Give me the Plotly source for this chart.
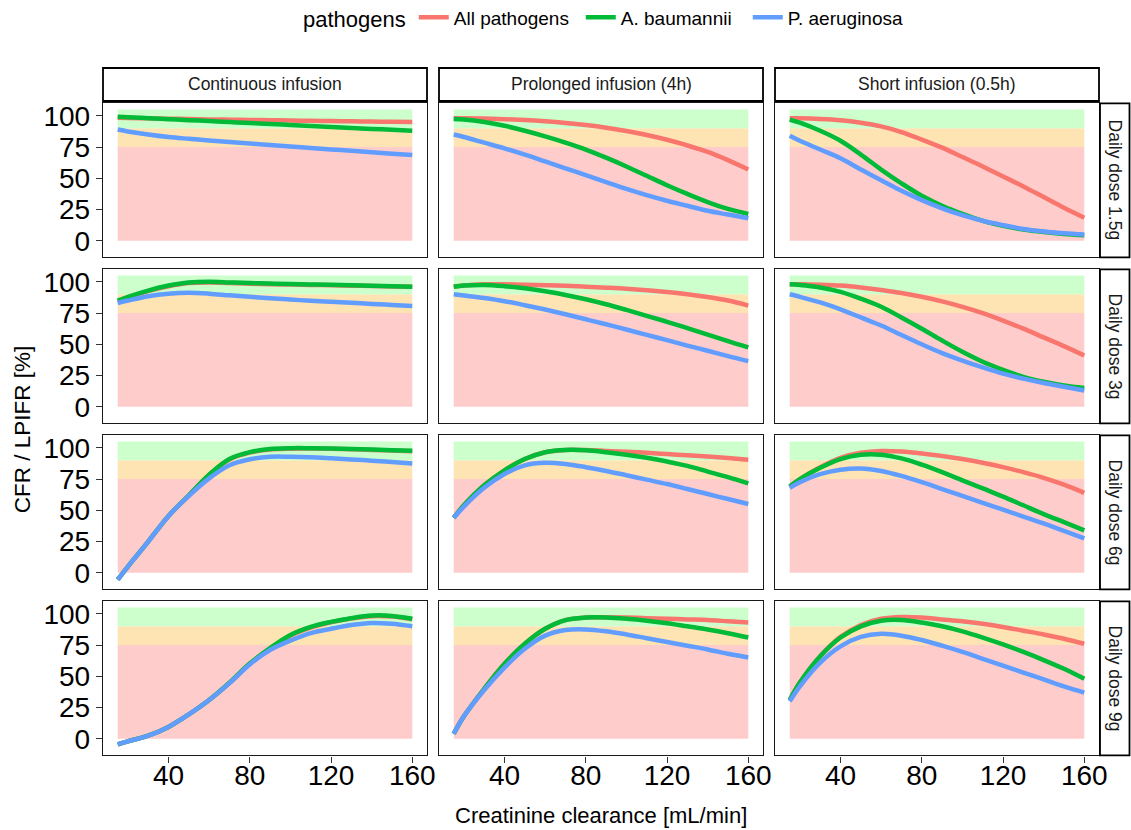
import plotly.graph_objects as go

# Creatinine clearance grid [mL/min]
clcr = [15, 20, 30, 40, 50, 60, 70, 80, 90, 100, 110, 120, 130, 140, 150, 160]

regimens = ["Continuous infusion", "Prolonged infusion (4h)", "Short infusion (0.5h)"]
doses = ["Daily dose 1.5g", "Daily dose 3g", "Daily dose 6g", "Daily dose 9g"]
pathogens = ["All pathogens", "A. baumannii", "P. aeruginosa"]
colors = ["#F8766D", "#00BA38", "#619CFF"]

y_ticks = [0, 25, 50, 75, 100]
x_ticks = [40, 80, 120, 160]

# Target attainment bands (lower, upper, fill)
bands = [(0, 75, "#FFCCCC"), (75, 90, "#FEE3B3"), (90, 105, "#CCFFCC")]

# ---- Daily dose 1.5 g ----
all_d15_ci = [98.5, 98.3, 98.0, 97.7, 97.4, 97.1, 96.9, 96.7, 96.5, 96.2, 96.0, 95.8, 95.6, 95.4, 95.2, 95.0]
ab_d15_ci = [99.2, 98.8, 98.1, 97.3, 96.5, 95.8, 95.0, 94.2, 93.5, 92.7, 91.9, 91.1, 90.3, 89.5, 88.8, 88.0]
pa_d15_ci = [89.0, 87.5, 85.0, 83.0, 81.6, 80.3, 79.0, 77.8, 76.6, 75.5, 74.3, 73.1, 72.0, 70.8, 69.7, 68.6]

all_d15_pi = [98.0, 98.0, 97.8, 97.3, 96.6, 95.6, 94.3, 92.6, 90.5, 87.8, 84.6, 80.8, 76.3, 71.1, 64.5, 57.0]
ab_d15_pi = [97.5, 97.0, 95.0, 92.0, 88.0, 83.5, 78.5, 73.0, 66.5, 59.5, 52.0, 44.5, 37.5, 31.0, 25.5, 21.5]
pa_d15_pi = [85.0, 83.0, 78.5, 74.0, 69.0, 63.5, 58.0, 52.5, 47.0, 41.5, 36.5, 32.0, 28.0, 24.0, 21.0, 18.0]

all_d15_si = [98.0, 98.0, 97.5, 96.5, 94.5, 91.5, 87.0, 81.0, 74.5, 67.0, 59.5, 51.5, 43.5, 35.0, 26.5, 18.5]
ab_d15_si = [97.0, 94.5, 88.0, 80.0, 69.0, 57.0, 46.0, 36.0, 28.0, 21.5, 16.0, 12.0, 9.0, 7.0, 5.5, 4.5]
pa_d15_si = [84.0, 80.0, 73.0, 66.0, 57.0, 48.5, 40.0, 32.5, 26.0, 20.5, 16.0, 12.5, 9.5, 7.5, 6.0, 5.0]

# ---- Daily dose 3 g ----
all_d3_ci = [84.0, 87.0, 92.5, 96.5, 99.0, 99.5, 99.0, 98.5, 98.0, 97.8, 97.5, 97.2, 96.9, 96.6, 96.3, 96.0]
ab_d3_ci = [85.0, 88.0, 93.0, 97.0, 99.5, 100.0, 99.5, 99.0, 98.6, 98.2, 97.9, 97.6, 97.2, 96.9, 96.5, 96.0]
pa_d3_ci = [83.0, 85.0, 88.5, 90.5, 91.2, 90.5, 89.2, 88.0, 86.8, 85.8, 84.8, 84.0, 83.2, 82.3, 81.5, 80.7]

all_d3_pi = [96.0, 97.0, 98.0, 98.0, 97.7, 97.3, 96.8, 96.1, 95.3, 94.4, 93.2, 91.8, 90.0, 87.8, 85.0, 81.0]
ab_d3_pi = [96.0, 97.0, 97.5, 96.5, 94.8, 92.5, 89.5, 86.0, 82.0, 77.5, 72.8, 68.0, 63.0, 57.8, 52.5, 47.5]
pa_d3_pi = [90.0, 89.0, 87.0, 84.5, 81.3, 77.8, 74.0, 70.0, 66.0, 61.8, 57.5, 53.3, 49.0, 44.8, 40.5, 36.5]

all_d3_si = [98.0, 98.0, 97.7, 97.0, 95.5, 93.5, 91.0, 88.0, 84.3, 80.0, 75.0, 69.0, 62.5, 55.5, 48.5, 41.0]
ab_d3_si = [98.0, 97.5, 95.5, 92.0, 86.5, 80.0, 71.5, 62.5, 53.0, 44.0, 36.0, 29.5, 24.0, 20.0, 17.0, 15.0]
pa_d3_si = [90.0, 88.0, 83.5, 78.0, 71.5, 65.0, 57.5, 50.0, 43.0, 37.0, 31.5, 26.5, 22.5, 19.0, 16.0, 13.0]

# ---- Daily dose 6 g ----
all_d6_ci = [-5.5, 5.0, 25.0, 45.5, 61.8, 78.2, 90.6, 96.1, 98.6, 99.3, 99.4, 99.2, 98.8, 98.3, 97.8, 97.3]
ab_d6_ci = [-5.5, 5.0, 25.0, 45.5, 62.0, 78.5, 91.0, 96.5, 99.0, 99.7, 99.7, 99.5, 99.1, 98.6, 98.1, 97.6]
pa_d6_ci = [-5.5, 5.0, 25.0, 45.5, 61.5, 75.5, 86.0, 90.8, 92.8, 92.8, 92.4, 91.6, 90.7, 89.7, 88.6, 87.5]

all_d6_pi = [44.0, 54.0, 70.0, 82.0, 91.0, 96.5, 98.3, 98.2, 97.5, 96.8, 96.0, 95.0, 94.0, 93.0, 91.8, 90.5]
ab_d6_pi = [44.0, 54.0, 70.0, 82.0, 91.0, 96.5, 98.3, 98.0, 96.5, 94.5, 92.0, 89.0, 85.5, 81.0, 76.5, 71.5]
pa_d6_pi = [44.0, 53.0, 68.0, 79.0, 86.0, 88.0, 87.0, 84.5, 81.5, 78.0, 74.5, 71.0, 67.0, 63.0, 59.0, 55.0]

all_d6_si = [69.0, 75.0, 84.5, 92.0, 96.0, 97.5, 97.0, 95.5, 93.5, 91.0, 88.0, 84.5, 80.5, 76.0, 70.5, 64.0]
ab_d6_si = [69.0, 75.0, 84.0, 91.0, 94.5, 94.5, 91.5, 86.5, 80.5, 74.0, 67.5, 61.0, 54.0, 47.0, 40.5, 34.0]
pa_d6_si = [68.0, 72.5, 79.0, 82.5, 83.5, 81.5, 77.5, 72.5, 67.0, 61.5, 56.0, 50.5, 45.0, 39.5, 33.5, 27.5]

# ---- Daily dose 9 g ----
all_d9_ci = [-4.5, -2.0, 2.5, 9.5, 19.5, 31.0, 44.7, 60.0, 72.3, 82.5, 89.0, 93.2, 96.2, 98.1, 97.8, 95.6]
ab_d9_ci = [-4.5, -2.0, 2.5, 9.5, 19.5, 31.0, 44.8, 60.2, 72.5, 83.0, 89.5, 93.5, 96.5, 98.6, 98.3, 96.0]
pa_d9_ci = [-4.5, -2.0, 2.5, 9.5, 19.5, 31.0, 44.5, 59.5, 71.0, 78.5, 84.5, 88.0, 91.0, 92.7, 92.0, 90.0]

all_d9_pi = [4.0, 18.0, 40.0, 60.0, 76.0, 88.0, 95.0, 97.0, 97.2, 97.0, 96.5, 96.0, 95.5, 95.0, 94.0, 93.0]
ab_d9_pi = [4.0, 18.0, 40.0, 60.0, 76.0, 88.0, 95.0, 97.0, 97.0, 96.0, 94.5, 92.5, 90.0, 87.5, 84.5, 81.0]
pa_d9_pi = [4.0, 18.0, 39.0, 57.0, 72.0, 82.5, 87.0, 87.5, 86.0, 83.5, 80.5, 77.5, 74.5, 71.5, 68.0, 65.0]

all_d9_si = [31.0, 45.0, 66.0, 81.5, 91.0, 96.0, 97.5, 97.0, 95.5, 94.0, 92.0, 89.5, 86.5, 83.5, 80.0, 76.0]
ab_d9_si = [31.0, 45.0, 66.0, 81.0, 90.0, 94.5, 95.0, 93.0, 90.0, 86.0, 81.0, 75.5, 69.5, 63.0, 56.0, 48.0]
pa_d9_si = [30.0, 42.0, 61.0, 74.0, 81.5, 84.0, 82.5, 79.0, 74.5, 69.5, 64.0, 58.5, 53.0, 47.5, 42.0, 37.0]

# rows = doses, columns = regimens, each cell = (All, A. baumannii, P. aeruginosa)
panels = [
    [(all_d15_ci, ab_d15_ci, pa_d15_ci), (all_d15_pi, ab_d15_pi, pa_d15_pi), (all_d15_si, ab_d15_si, pa_d15_si)],
    [(all_d3_ci, ab_d3_ci, pa_d3_ci), (all_d3_pi, ab_d3_pi, pa_d3_pi), (all_d3_si, ab_d3_si, pa_d3_si)],
    [(all_d6_ci, ab_d6_ci, pa_d6_ci), (all_d6_pi, ab_d6_pi, pa_d6_pi), (all_d6_si, ab_d6_si, pa_d6_si)],
    [(all_d9_ci, ab_d9_ci, pa_d9_ci), (all_d9_pi, ab_d9_pi, pa_d9_pi), (all_d9_si, ab_d9_si, pa_d9_si)],
]

# ---- layout geometry in pixels ----
W, H = 1131, 830
col_px = [(103.0, 427.0), (439.0, 763.0), (775.0, 1099.0)]
row_px = [(103.3, 257.3), (269.3, 423.3), (435.3, 589.3), (601.3, 755.3)]
top_strip = (68.0, 101.0)
right_strip = (1100.0, 1129.5)
x_range = [7.75, 167.25]
y_range = [-13.2, 110.0]

FONT = "Liberation Sans, Arial, sans-serif"
INK = "#1a1a1a"


def fx(p):
    return p / W


def fy(p):
    return 1 - p / H


fig = go.Figure()
shapes = []
annotations = []
layout_axes = {}

for r in range(4):
    for c in range(3):
        k = r * 3 + c + 1
        suffix = "" if k == 1 else str(k)
        xref, yref = "x" + suffix, "y" + suffix

        for i, series in enumerate(panels[r][c]):
            fig.add_trace(go.Scatter(
                x=clcr, y=series, mode="lines",
                line=dict(color=colors[i], width=4.5, shape="spline", smoothing=1.0),
                name=pathogens[i], legendgroup=pathogens[i],
                showlegend=(k == 1), xaxis=xref, yaxis=yref,
                hoverinfo="skip",
            ))

        for lo, hi, fill in bands:
            shapes.append(dict(type="rect", xref=xref, yref=yref,
                               x0=clcr[0], x1=clcr[-1], y0=lo, y1=hi,
                               fillcolor=fill, line=dict(width=0), layer="below"))

        bottom = r == 3
        left = c == 0
        layout_axes["xaxis" + suffix] = dict(
            domain=[fx(col_px[c][0]), fx(col_px[c][1])], range=x_range,
            anchor=yref, showgrid=False, zeroline=False, automargin=False,
            showline=True, mirror=True, linecolor=INK, linewidth=1.4,
            tickvals=x_ticks, ticks="outside" if bottom else "",
            ticklen=6, tickwidth=1.2, tickcolor="#333333",
            showticklabels=bottom, ticklabelstandoff=-11,
            tickfont=dict(family=FONT, size=28, color="#000000"),
        )
        layout_axes["yaxis" + suffix] = dict(
            domain=[fy(row_px[r][1]), fy(row_px[r][0])], range=y_range,
            anchor=xref, showgrid=False, zeroline=False, automargin=False,
            showline=True, mirror=True, linecolor=INK, linewidth=1.4,
            tickvals=y_ticks, ticks="outside" if left else "",
            ticklen=6, tickwidth=1.2, tickcolor="#333333",
            showticklabels=left,
            tickfont=dict(family=FONT, size=28, color="#000000"),
        )

# column strips
for c, label in enumerate(regimens):
    shapes.append(dict(type="rect", xref="paper", yref="paper",
                       x0=fx(col_px[c][0]), x1=fx(col_px[c][1]),
                       y0=fy(top_strip[1]), y1=fy(top_strip[0]),
                       fillcolor="white", line=dict(color="#000000", width=1.8)))
    annotations.append(dict(x=fx((col_px[c][0] + col_px[c][1]) / 2),
                            y=fy((top_strip[0] + top_strip[1]) / 2),
                            xref="paper", yref="paper", text=label, showarrow=False,
                            font=dict(family=FONT, size=17.5, color=INK),
                            xanchor="center", yanchor="middle"))

# row strips
for r, label in enumerate(doses):
    shapes.append(dict(type="rect", xref="paper", yref="paper",
                       x0=fx(right_strip[0]), x1=fx(right_strip[1]),
                       y0=fy(row_px[r][1]), y1=fy(row_px[r][0]),
                       fillcolor="white", line=dict(color="#000000", width=1.8)))
    annotations.append(dict(x=fx((right_strip[0] + right_strip[1]) / 2),
                            y=fy((row_px[r][0] + row_px[r][1]) / 2),
                            xref="paper", yref="paper", text=label, showarrow=False,
                            textangle=90,
                            font=dict(family=FONT, size=17.5, color=INK),
                            xanchor="center", yanchor="middle"))

# axis titles
annotations.append(dict(x=fx((col_px[0][0] + col_px[2][1]) / 2), y=fy(815),
                        xref="paper", yref="paper", text="Creatinine clearance [mL/min]",
                        showarrow=False, font=dict(family=FONT, size=22, color="#000000"),
                        xanchor="center", yanchor="middle"))
annotations.append(dict(x=fx(22), y=fy((row_px[0][0] + row_px[3][1]) / 2),
                        xref="paper", yref="paper", text="CFR / LPIFR [%]",
                        showarrow=False, textangle=-90,
                        font=dict(family=FONT, size=22.5, color="#000000"),
                        xanchor="center", yanchor="middle"))

fig.update_layout(
    width=W, height=H,
    margin=dict(l=0, r=0, t=0, b=0, pad=0, autoexpand=False),
    paper_bgcolor="white", plot_bgcolor="white",
    shapes=shapes, annotations=annotations,
    showlegend=True,
    legend=dict(
        orientation="h", x=fx(301), y=fy(18), xanchor="left", yanchor="middle",
        title=dict(text="pathogens", font=dict(family=FONT, size=22, color="#000000"), side="left"),
        font=dict(family=FONT, size=19, color="#000000"),
        bgcolor="rgba(0,0,0,0)", itemwidth=30,
        entrywidth=122, entrywidthmode="pixels",
    ),
    **layout_axes,
)

fig.write_html("out.html")
